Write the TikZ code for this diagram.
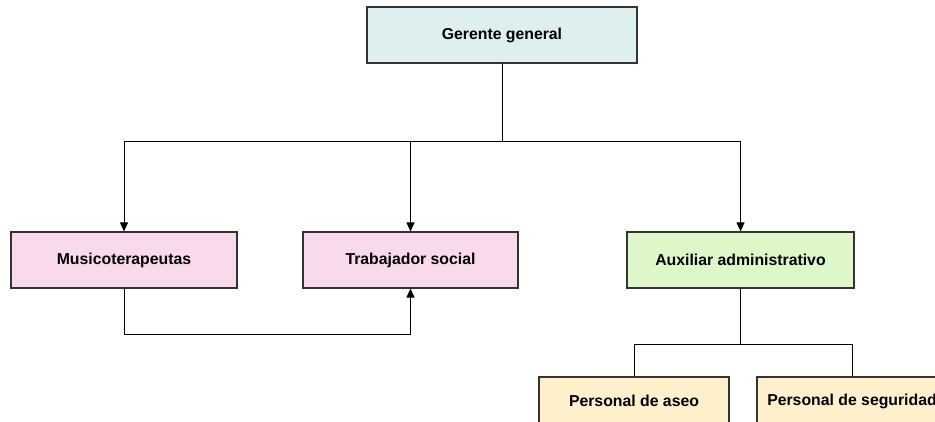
\documentclass[tikz,border=0pt]{standalone}
\usepackage{fontspec}
\setmainfont{Liberation Sans}
\usetikzlibrary{arrows.meta}
\definecolor{cyanfill}{HTML}{DDEFEF}
\definecolor{pinkfill}{HTML}{F9D9EC}
\definecolor{greenfill}{HTML}{DDF7C8}
\definecolor{yellowfill}{HTML}{FFF0CC}
\definecolor{edge}{HTML}{333333}
\tikzset{
  box/.style={draw=edge, line width=1.2pt, minimum height=56pt, inner sep=0pt,
    font=\fontsize{15.8}{18}\selectfont\bfseries, text=black},
  conn/.style={draw=black, line width=1pt},
  arr/.style={conn, -{Triangle[length=9pt,width=8pt]}}
}
\begin{document}
\begin{tikzpicture}[x=1pt,y=-1pt]
\useasboundingbox (0,0) rectangle (935,421);
\clip (0,0) rectangle (935,421);
\node[box, fill=cyanfill, minimum width=270pt] (g) at (502,35) {Gerente general};
\node[box, fill=pinkfill, minimum width=226pt] (m) at (124,260) {Musicoterapeutas};
\node[box, fill=pinkfill, minimum width=215pt] (t) at (410.5,260) {Trabajador social};
\node[box, fill=greenfill, minimum width=227pt] (a) at (740.5,260) {Auxiliar administrativo};
\node[box, fill=yellowfill, minimum width=190pt, minimum height=48pt] (pa) at (634,401) {Personal de aseo};
\node[box, fill=yellowfill, minimum width=190pt, minimum height=48pt] (ps) at (852,401) {Personal de seguridad};
\coordinate (j1) at (502,141);
\coordinate (j2) at (740.5,344);
\coordinate (j3) at (124,334);
\draw[conn] (g.south) -- (j1);
\draw[arr] (j1) -| (m.north);
\draw[arr] (j1) -| (t.north);
\draw[arr] (j1) -| (a.north);
\draw[conn] (m.south) -- (j3);
\draw[arr] (j3) -| (t.south);
\draw[conn] (a.south) -- (j2);
\draw[conn] (j2) -| (pa.north);
\draw[conn] (j2) -| (ps.north);
\end{tikzpicture}
\end{document}
